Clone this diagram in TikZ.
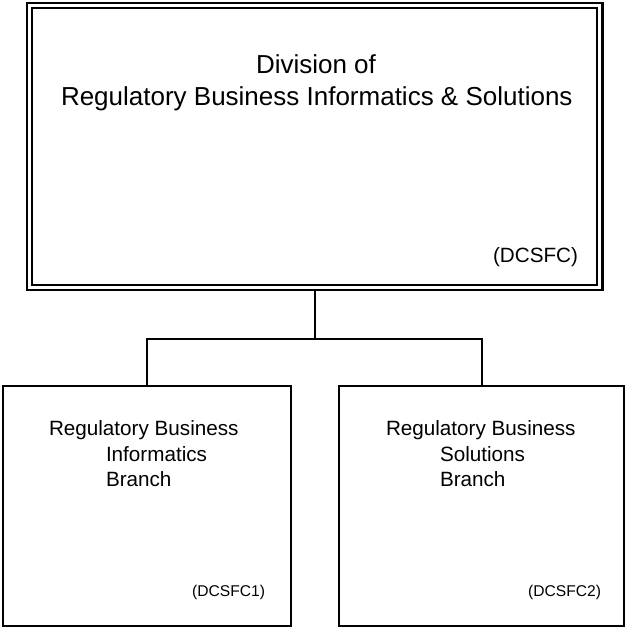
\documentclass[tikz,border=0pt]{standalone}
\usepackage{fontspec}
\setmainfont{Liberation Sans}
\begin{document}
\begin{tikzpicture}[x=0.75pt,y=-0.75pt,
  txt/.style={inner sep=0pt, outer sep=0pt, anchor=base west},
  bigtxt/.style={txt, font=\fontsize{19.5pt}{23pt}\selectfont},
  midtxt/.style={txt, font=\fontsize{15.5pt}{18pt}\selectfont},
  smalltxt/.style={txt, anchor=base east, font=\fontsize{11.7pt}{14pt}\selectfont},
  topbox/.style={draw=black, line width=1.6pt, double=white, double distance=2.2pt, inner sep=0pt, outer sep=2.7pt},
  branchbox/.style={draw=black, line width=1.6pt, inner sep=0pt, outer sep=0.8pt},
  conn/.style={draw=black, line width=1.5pt}
]
\useasboundingbox (0,0) rectangle (625,628);
\node[topbox, minimum width=428pt, minimum height=211.7pt] (top) at (314.6,146.4) {};
\node[branchbox, minimum width=216pt, minimum height=180pt] (b1) at (147,506) {};
\node[branchbox, minimum width=213.75pt, minimum height=180pt] (b2) at (481.5,506) {};
\coordinate (j) at (314.6,338.7);
\draw[conn] (top.south) -- (j);
\draw[conn] (b1.north) |- (j) -| (b2.north);
% texts
\node[bigtxt, anchor=base] (t1) at (316,73) {Division of};
\node[bigtxt] (t2) at (61,105) {Regulatory Business Informatics \& Solutions};
\node[midtxt, anchor=base east] (t3) at (578,262) {(DCSFC)};
\node[midtxt] (l1) at (49,435) {Regulatory Business};
\node[midtxt] (l2) at (106,461) {Informatics};
\node[midtxt] (l3) at (106,486) {Branch};
\node[smalltxt] (l4) at (265,596) {(DCSFC1)};
\node[midtxt] (r1) at (386,435) {Regulatory Business};
\node[midtxt] (r2) at (440,461) {Solutions};
\node[midtxt] (r3) at (440,486) {Branch};
\node[smalltxt] (r4) at (601,596) {(DCSFC2)};
\end{tikzpicture}
\end{document}
